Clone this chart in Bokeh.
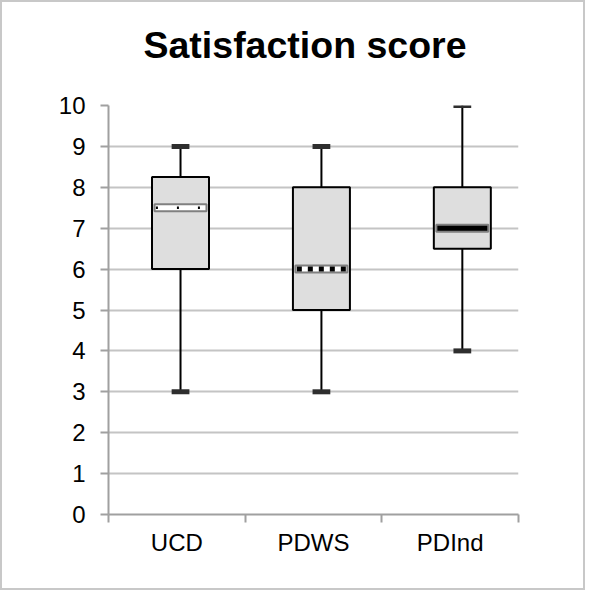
from bokeh.plotting import figure
from bokeh.models import Range1d, FixedTicker, ColumnDataSource, Title
from bokeh.embed import file_html
from bokeh.resources import INLINE

title_text = "Satisfaction score"
categories = ["UCD", "PDWS", "PDInd"]
lower = [3, 3, 4]
q1 = [6, 5, 6.5]
median = [7.5, 6, 7]
q3 = [8.25, 8, 8]
upper = [9, 9, 10]
y_ticks = list(range(0, 11))

# layout: category slots 0..3, box centres drift slightly right as in the original
xs = [0.527 + 1.031 * i for i in range(len(categories))]

src = ColumnDataSource(dict(x=xs, lower=lower, q1=q1, median=median, q3=q3, upper=upper))

W, H = 585, 590
BL, BR, BT, BB = 106, 69, 103, 78
p = figure(width=W, height=H, output_backend="svg", toolbar_location=None,
           x_range=Range1d(0, 3), y_range=Range1d(0, 10),
           min_border_left=BL, min_border_right=BR, min_border_top=BT, min_border_bottom=BB)
p.styles = {"border": "2px solid #c8c8c8"}
p.outline_line_color = None
p.background_fill_color = "white"

p.title = Title(text=title_text, align="left", offset=35, standoff=0, vertical_align="bottom",
                padding=dict(left=0, right=0, top=0, bottom=40),
                text_font="Liberation Sans", text_font_size="37.5px", text_font_style="bold",
                text_color="black")

# grids
p.xgrid.grid_line_color = None
p.ygrid.grid_line_color = "#c4c4c4"
p.ygrid.grid_line_width = 2
p.ygrid.ticker = FixedTicker(ticks=y_ticks)

# y axis
p.yaxis.ticker = FixedTicker(ticks=y_ticks)
p.yaxis.axis_line_color = "#a0a0a0"
p.yaxis.axis_line_width = 2
p.yaxis.major_tick_line_color = "#a0a0a0"
p.yaxis.major_tick_line_width = 2
p.yaxis.major_tick_out = 8
p.yaxis.major_tick_in = 0
p.yaxis.minor_tick_line_color = None
p.yaxis.major_label_standoff = 15
p.yaxis.major_label_text_font = "Liberation Sans"
p.yaxis.major_label_text_font_size = "24px"
p.yaxis.major_label_text_color = "black"

# x axis: labels at slot centres, tick marks at slot boundaries
p.xaxis.ticker = FixedTicker(ticks=[0.5 + i for i in range(len(categories))],
                             minor_ticks=list(range(len(categories) + 1)))
p.xaxis.major_label_overrides = {0.5 + i: c for i, c in enumerate(categories)}
p.xaxis.major_tick_line_color = None
p.xaxis.major_tick_out = 0
p.xaxis.minor_tick_line_color = "#a0a0a0"
p.xaxis.minor_tick_line_width = 2
p.xaxis.minor_tick_out = 8
p.xaxis.minor_tick_in = 0
p.xaxis.axis_line_color = "#a0a0a0"
p.xaxis.axis_line_width = 2
p.xaxis.major_label_standoff = 6
p.xaxis.major_label_text_font = "Liberation Sans"
p.xaxis.major_label_text_font_size = "24px"
p.xaxis.major_label_text_color = "black"

# whiskers
p.segment(x0="x", y0="q3", x1="x", y1="upper", source=src, line_color="black", line_width=2)
p.segment(x0="x", y0="q1", x1="x", y1="lower", source=src, line_color="black", line_width=2)
# caps
p.rect(x="x", y="upper", width=0.13, height=5, height_units="screen", source=src,
       fill_color="#2e2e2e", line_color=None)
p.rect(x="x", y="lower", width=0.13, height=5, height_units="screen", source=src,
       fill_color="#2e2e2e", line_color=None)
# boxes
p.vbar(x="x", bottom="q1", top="q3", width=0.417, source=src,
       fill_color="#dedede", line_color="black", line_width=2)

# median markers (different style per group)
mw = 0.38
fills = ["white", "white", "black"]
dashes = ["2 19", "5 6", None]
for i in range(len(categories)):
    p.rect(x=[xs[i]], y=[median[i]], width=mw, height=7, height_units="screen",
           fill_color=fills[i], line_color="#808080", line_width=2)
    if dashes[i]:
        p.segment(x0=[xs[i] - mw / 2 + 0.01], y0=[median[i]], x1=[xs[i] + mw / 2 - 0.01], y1=[median[i]],
                  line_color="black", line_width=5 if i == 1 else 2.5, line_dash=dashes[i])

open("out.html", "w").write(file_html(p, INLINE))
